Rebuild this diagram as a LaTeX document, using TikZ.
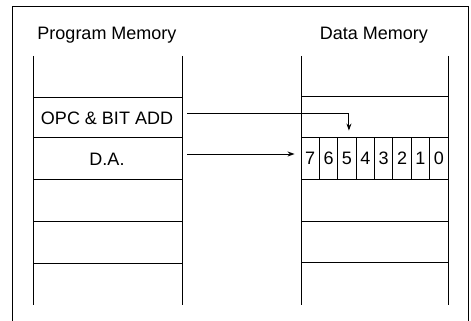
\documentclass[tikz,border=0pt]{standalone}
\usepackage{fontspec}
\setmainfont{Liberation Sans}
\usetikzlibrary{arrows.meta}

\tikzset{
    lbl/.style={font=\fontsize{18}{21}\selectfont, inner sep=0pt},
    bitcell/.style={draw, minimum width=18.375pt, minimum height=42pt, inner sep=0pt,
        font=\fontsize{18}{21}\selectfont}
}

\begin{document}
\begin{tikzpicture}[x=1pt, y=-1pt, line width=0.9pt, >={Stealth[length=7pt,width=5pt]}]
    \useasboundingbox (0,0) rectangle (471,321);

    % 1. 外框
    \draw (12,321) -- (12,6) -- (468,6) -- (468,321);

    % 2. 程序存储器
    \node[lbl] (pm) at (107,35) {Program Memory};
    \draw (33,56) -- (33,305) (182,56) -- (182,305);
    \foreach \y in {97,137,179,221,263}
        \draw (33,\y) -- (182,\y);
    \node[lbl] (opc) at (107,118) {OPC \& BIT ADD};
    \node[lbl] (da) at (107,159) {D.A.};

    % 3. 数据存储器
    \node[lbl] (dm) at (374,35) {Data Memory};
    \draw (301,56) -- (301,305) (448,56) -- (448,305);
    \foreach \y in {96,137,179,221,262}
        \draw (301,\y) -- (448,\y);
    \foreach \b in {0,...,7}
        \node[bitcell] (b\b) at ({301+(7.5-\b)*18.375},158) {\b};

    % 4. 箭头
    \coordinate (opc-out) at (187,113);
    \coordinate (da-out) at (187,154);
    \draw[->, shorten >=6pt] (opc-out) -| ([xshift=2pt]b5.north);
    \draw[->, shorten >=6pt] (da-out) -- (da-out -| b7.west);
\end{tikzpicture}
\end{document}
